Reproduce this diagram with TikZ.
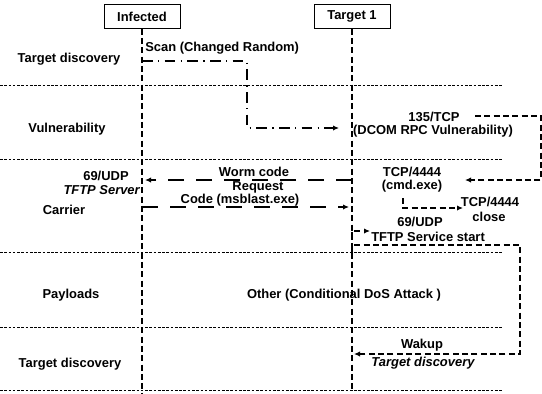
\documentclass[tikz,border=0pt]{standalone}
\usepackage{fontspec}
\setmainfont{Liberation Sans}
\usetikzlibrary{arrows.meta}

\begin{document}
\begin{tikzpicture}[x=0.75pt,y=-0.75pt,>={Latex[length=4.5pt,width=4pt]},
	  every node/.style={font=\bfseries\fontsize{9.7}{11}\selectfont,inner sep=0pt},
	  actor/.style={draw,semithick,minimum width=57pt,minimum height=17.5pt},
	  itlabel/.style={font=\bfseries\itshape\fontsize{9.7}{11}\selectfont},
	  lifeline/.style={line width=0.9pt,dash pattern=on 4.5pt off 2.5pt},
	  sepline/.style={line width=0.6pt,dash pattern=on 2pt off 1.2pt},
	  scanmsg/.style={line width=0.9pt,dash pattern=on 8pt off 4pt on 1pt off 4pt},
	  wormmsg/.style={line width=0.9pt,dash pattern=on 12pt off 9pt},
	  loopmsg/.style={line width=1pt,dash pattern=on 4.5pt off 2.5pt}]
	  \useasboundingbox (0,0) rectangle (542,393);
	  % phase separators
	  \foreach \y in {85,159,252,327,390}
	    \draw[sepline] (0,\y) -- (502,\y);
	  % actors and lifelines
	  \node[actor] (inf) at (142,16.5) {Infected};
	  \node[actor] (tgt) at (352,16.5) {Target 1};
	  \coordinate (infbot) at (142,393);
	  \coordinate (tgtbot) at (352,392);
	  \draw[lifeline] (inf.south) -- (infbot);
	  \draw[lifeline] (tgt.south) -- (tgtbot);
	  % phases
	  \node (ph1) at (69,59) {Target discovery};
	  \node (ph2) at (67,129) {Vulnerability};
	  \node (ph3) at (64,210) {Carrier};
	  \node (ph4) at (71,295) {Payloads};
	  \node (ph5) at (70,364) {Target discovery};
	  % scan
	  \node[anchor=west] (scan) at (145,48) {Scan (Changed Random)};
	  \coordinate (s1) at (142,61);
	  \coordinate (s2) at (247,61);
	  \coordinate (s3) at (247,128);
	  \coordinate (s4) at (339,128);
	  \draw[scanmsg,->] (s1) -- (s2) -- (s3) -- (s4);
	  % vulnerability
	  \node (vport) at (434,117) {135/TCP};
	  \node (vname) at (433,131) {(DCOM RPC Vulnerability)};
	  \coordinate (v1) at (475,116);
	  \coordinate (v2) at (541,116);
	  \coordinate (v3) at (541,180);
	  \coordinate (v4) at (465,180);
	  \draw[loopmsg,->] (v1) -- (v2) -- (v3) -- (v4);
	  % carrier
	  \node (udp1) at (106,176) {69/UDP};
	  \node[itlabel,anchor=east] (tftp1) at (140,190) {TFTP Server};
	  \node (wc) at (254,172) {Worm code};
	  \node (req) at (258,187) {Request};
	  \node (code) at (240,200) {Code (msblast.exe)};
	  \coordinate (w1) at (352,180);
	  \coordinate (w2) at (145,180);
	  \draw[wormmsg,->] (w1) -- (w2);
	  \coordinate (r1) at (142,207);
	  \coordinate (r2) at (349,207);
	  \draw[wormmsg,->] (r1) -- (r2);
	  \node (cport) at (412,172) {TCP/4444};
	  \node (cexe) at (412,186) {(cmd.exe)};
	  \node (close1) at (490,202) {TCP/4444};
	  \node (close2) at (489,217) {close};
	  \coordinate (c1) at (403,198);
	  \coordinate (c2) at (403,208);
	  \coordinate (c3) at (463,208);
	  \draw[loopmsg,->] (c1) -- (c2) -- (c3);
	  \node (udp2) at (420,222) {69/UDP};
	  \node[anchor=west] (tftp2) at (371,237) {TFTP Service start};
	  \coordinate (t1) at (352,238);
	  \coordinate (t2) at (352,231);
	  \coordinate (t3) at (370,231);
	  \draw[loopmsg,->] (t1) -- (t2) -- (t3);
	  % payloads
	  \node (dos) at (344,295) {Other (Conditional DoS Attack )};
	  \coordinate (l1) at (352,252);
	  \coordinate (l2) at (352,245);
	  \coordinate (l3) at (520,245);
	  \coordinate (l4) at (520,354);
	  \coordinate (l5) at (354,354);
	  \draw[loopmsg,->] (l1) -- (l2) -- (l3) -- (l4) -- (l5);
	  \node (wake) at (422,345) {Wakup};
	  \node[itlabel] (td3) at (423,363) {Target discovery};
\end{tikzpicture}
\end{document}
